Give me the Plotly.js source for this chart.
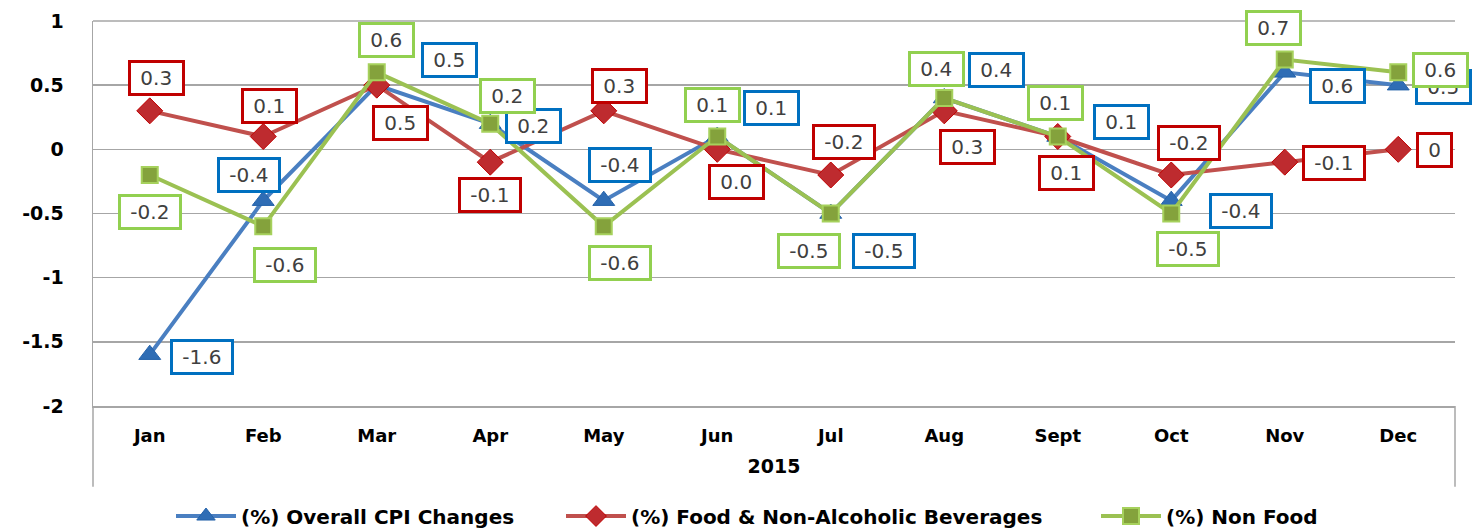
<!DOCTYPE html>
<html>
<head>
<meta charset="utf-8">
<script src="https://cdn.plot.ly/plotly-3.0.1.min.js"></script>
<style>html,body{margin:0;padding:0;background:#fff;}#chart{width:1481px;height:532px;}</style>
</head>
<body>
<div id="chart"></div>
<script>
// ---- data ----
const months = ['Jan','Feb','Mar','Apr','May','Jun','Jul','Aug','Sept','Oct','Nov','Dec'];
const yearLabel = '2015';
const cpiValues = [-1.6, -0.4, 0.5, 0.2, -0.4, 0.1, -0.5, 0.4, 0.1, -0.4, 0.6, 0.5];
const foodValues = [0.3, 0.1, 0.5, -0.1, 0.3, 0.0, -0.2, 0.3, 0.1, -0.2, -0.1, 0.0];
const nonFoodValues = [-0.2, -0.6, 0.6, 0.2, -0.6, 0.1, -0.5, 0.4, 0.1, -0.5, 0.7, 0.6];
const cpiLabels = ['-1.6','-0.4','0.5','0.2','-0.4','0.1','-0.5','0.4','0.1','-0.4','0.6','0.5'];
const foodLabels = ['0.3','0.1','0.5','-0.1','0.3','0.0','-0.2','0.3','0.1','-0.2','-0.1','0'];
const nonFoodLabels = ['-0.2','-0.6','0.6','0.2','-0.6','0.1','-0.5','0.4','0.1','-0.5','0.7','0.6'];
const seriesNames = ['(%) Overall CPI Changes', '(%) Food & Non-Alcoholic Beverages', '(%) Non Food'];
const yTickVals = [-2, -1.5, -1, -0.5, 0, 0.5, 1];
const yTickText = ['-2', '-1.5', '-1', '-0.5', '0', '0.5', '1'];

// ---- label placement (pixel offsets from the point: dx right, dy down) ----
const cpiOffsets = [[52,2],[-14,-26],[73,-25],[43,2],[16,-36],[54,-29],[53,37],[52,-28],[64,-15],[70,10],[53,14],[45,2]];
const foodOffsets = [[7,-33],[6,-31],[24,38],[0,33],[16,-25],[19,33],[13,-33],[23,36],[9,36],[18,-32],[49,1],[36,1]];
const nonFoodOffsets = [[0,37],[22,39],[10,-32],[17,-28],[16,37],[-5,-32],[-22,37],[-8,-29],[-2,-34],[17,35],[-11,-32],[42,-2]];

const FONT = 'DejaVu Sans, Verdana, sans-serif';
const blueBox = '#0070C0', redBox = '#C00000', greenBox = '#92D050';

function makeLabels(values, labels, offsets, color) {
  return values.map((v, i) => ({
    x: months[i], y: v, xref: 'x', yref: 'y',
    text: '\u00A0' + labels[i] + '\u00A0',
    showarrow: false,
    xanchor: 'center', yanchor: 'middle',
    xshift: offsets[i][0], yshift: -offsets[i][1],
    font: {family: FONT, size: 20, color: '#404040'},
    bgcolor: 'rgba(255,255,255,1)',
    bordercolor: color, borderwidth: 3, borderpad: 3
  }));
}

const traces = [
  {
    x: months, y: cpiValues, name: seriesNames[0], type: 'scatter', mode: 'lines+markers',
    legend: 'legend',
    line: {color: '#4A7FC1', width: 4},
    marker: {symbol: 'triangle-up', size: 19, color: '#2F6DB5', line: {color: '#2462AA', width: 1}}
  },
  {
    x: months, y: foodValues, name: seriesNames[1], type: 'scatter', mode: 'lines+markers',
    legend: 'legend2',
    line: {color: '#C0504D', width: 4},
    marker: {symbol: 'diamond', size: 20, color: '#BE2B2F', line: {color: '#C00000', width: 1}}
  },
  {
    x: months, y: nonFoodValues, name: seriesNames[2], type: 'scatter', mode: 'lines+markers',
    legend: 'legend3',
    line: {color: '#9BC152', width: 4},
    marker: {symbol: 'square', size: 16, color: '#84A23C', line: {color: '#A6D15C', width: 2}}
  }
];

const annotations = [].concat(
  makeLabels(cpiValues, cpiLabels, cpiOffsets, blueBox),
  makeLabels(foodValues, foodLabels, foodOffsets, redBox),
  makeLabels(nonFoodValues, nonFoodLabels, nonFoodOffsets, greenBox)
);

function legendAt(px) {
  return {
    orientation: 'h', xref: 'container', yref: 'container',
    x: px / 1481, xanchor: 'left', y: 0.03, yanchor: 'middle',
    itemwidth: 60, bgcolor: 'rgba(0,0,0,0)',
    font: {family: FONT, size: 20, color: '#000', weight: 'bold'}
  };
}

const gridColor = '#A6A6A6';
const layout = {
  width: 1481, height: 532,
  margin: {l: 93, r: 26, t: 21, b: 126},
  paper_bgcolor: '#ffffff', plot_bgcolor: '#ffffff',
  showlegend: true,
  font: {family: FONT, color: '#000'},
  xaxis: {
    type: 'category', categoryorder: 'array', categoryarray: months,
    range: [-0.5, 11.5], showgrid: false, zeroline: false,
    showline: true, linecolor: gridColor, linewidth: 1.5,
    ticks: '', ticklabelstandoff: 13,
    tickfont: {family: FONT, size: 18, color: '#000', weight: 'bold'},
    title: {text: '<b>' + yearLabel + '</b>', standoff: 14,
            font: {family: FONT, size: 19, color: '#000'}},
    fixedrange: true
  },
  yaxis: {
    range: [-2, 1], tickvals: yTickVals, ticktext: yTickText,
    showgrid: true, gridcolor: gridColor, gridwidth: 1.5,
    zeroline: false, showline: true, linecolor: gridColor, linewidth: 1.5,
    ticks: '', ticklabelstandoff: 24,
    tickfont: {family: FONT, size: 19, color: '#000', weight: 'bold'},
    fixedrange: true
  },
  legend: legendAt(171),
  legend2: legendAt(561),
  legend3: legendAt(1096),
  shapes: [
    {type: 'line', xref: 'paper', yref: 'paper', x0: 0, x1: 0, y0: 0, y1: -0.21, line: {color: gridColor, width: 1.5}},
    {type: 'line', xref: 'paper', yref: 'paper', x0: 1, x1: 1, y0: 0, y1: -0.21, line: {color: gridColor, width: 1.5}},
    {type: 'line', xref: 'paper', yref: 'paper', x0: 0, x1: 1, y0: 1, y1: 1, line: {color: gridColor, width: 1.5}, layer: 'below'}
  ],
  annotations: annotations
};

Plotly.newPlot('chart', traces, layout, {displayModeBar: false, staticPlot: true});
</script>
</body>
</html>
